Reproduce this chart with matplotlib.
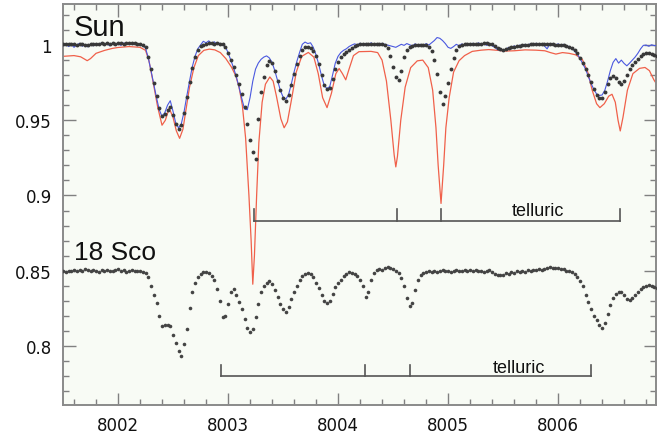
import numpy as np
import matplotlib
matplotlib.use("Agg")
import matplotlib.pyplot as plt
from matplotlib.ticker import MultipleLocator, FuncFormatter

# ---------------- data ----------------
# regular wavelength grid of the dotted spectra (Angstrom), 0.025 A sampling
wl_dots = np.round(np.linspace(8001.50, 8006.90, 217), 3)

# Sun, dotted spectrum (rows of 10 samples = 0.25 A)
sun_dots = [
    1.0005, 1.0008, 1.0006, 1.0009, 1.0004, 1.0002, 1.0006, 1.0004, 1.0000, 1.0003,  # 8001.50
    1.0008, 1.0010, 1.0006, 1.0009, 1.0012, 1.0010, 1.0011, 1.0008, 1.0012, 1.0010,  # 8001.75
    1.0011, 1.0013, 1.0010, 1.0012, 1.0014, 1.0011, 1.0012, 1.0009, 1.0008, 1.0002,  # 8002.00
    0.9985, 0.9920, 0.9840, 0.9745, 0.9660, 0.9580, 0.9530, 0.9540, 0.9570, 0.9590,  # 8002.25
    0.9535, 0.9478, 0.9442, 0.9470, 0.9550, 0.9655, 0.9755, 0.9850, 0.9920, 0.9965,  # 8002.50
    0.9993, 1.0003, 1.0008, 1.0011, 1.0012, 1.0010, 1.0012, 1.0009, 1.0005, 0.9985,  # 8002.75
    0.9945, 0.9898, 0.9852, 0.9800, 0.9740, 0.9672, 0.9590, 0.9472, 0.9370, 0.9290,  # 8003.00
    0.9240, 0.9510, 0.9685, 0.9790, 0.9865, 0.9895, 0.9880, 0.9825, 0.9760, 0.9700,  # 8003.25
    0.9650, 0.9630, 0.9665, 0.9735, 0.9810, 0.9875, 0.9928, 0.9965, 0.9985, 0.9990,  # 8003.50
    0.9982, 0.9962, 0.9928, 0.9872, 0.9800, 0.9735, 0.9708, 0.9712, 0.9772, 0.9840,  # 8003.75
    0.9890, 0.9920, 0.9938, 0.9952, 0.9968, 0.9980, 0.9992, 1.0000, 1.0004, 1.0006,  # 8004.00
    1.0008, 1.0007, 1.0009, 1.0006, 1.0008, 1.0007, 1.0004, 0.9998, 0.9982, 0.9930,  # 8004.25
    0.9855, 0.9785, 0.9765, 0.9830, 0.9920, 0.9970, 0.9990, 0.9997, 1.0000, 1.0002,  # 8004.50
    1.0001, 1.0003, 1.0000, 0.9990, 0.9960, 0.9900, 0.9810, 0.9690, 0.9610, 0.9660,  # 8004.75
    0.9750, 0.9840, 0.9915, 0.9968, 0.9995, 1.0003, 1.0006, 1.0008, 1.0007, 1.0009,  # 8005.00
    1.0008, 1.0010, 1.0009, 1.0011, 1.0012, 1.0010, 1.0005, 0.9995, 0.9982, 0.9972,  # 8005.25
    0.9970, 0.9975, 0.9982, 0.9986, 0.9990, 0.9992, 0.9995, 0.9998, 1.0000, 1.0003,  # 8005.50
    1.0005, 1.0007, 1.0008, 1.0009, 1.0008, 1.0006, 1.0007, 1.0005, 1.0004, 1.0003,  # 8005.75
    1.0002, 1.0001, 0.9999, 0.9995, 0.9990, 0.9980, 0.9965, 0.9945, 0.9915, 0.9880,  # 8006.00
    0.9840, 0.9800, 0.9755, 0.9710, 0.9670, 0.9648, 0.9650, 0.9690, 0.9740, 0.9780,  # 8006.25
    0.9795, 0.9780, 0.9755, 0.9740, 0.9760, 0.9800, 0.9840, 0.9868, 0.9885, 0.9905,  # 8006.50
    0.9925, 0.9938, 0.9946, 0.9945, 0.9940, 0.9932, 0.9928,                          # 8006.75
]

# Sun, blue (noisy) spectrum on the same grid
sun_blue = [
    0.9995, 1.0010, 0.9990, 1.0005, 0.9985, 1.0000, 1.0012, 0.9992, 1.0003, 0.9988,
    1.0006, 0.9995, 1.0010, 1.0002, 1.0015, 1.0000, 1.0008, 0.9995, 1.0012, 1.0004,
    1.0010, 0.9998, 1.0014, 1.0005, 1.0012, 1.0008, 1.0003, 1.0010, 1.0000, 0.9998,
    0.9980, 0.9915, 0.9830, 0.9740, 0.9650, 0.9570, 0.9525, 0.9550, 0.9600, 0.9630,
    0.9560, 0.9480, 0.9450, 0.9475, 0.9555, 0.9660, 0.9760, 0.9855, 0.9925, 0.9975,
    1.0000, 1.0025, 1.0015, 1.0028, 1.0010, 1.0022, 1.0005, 1.0012, 1.0000, 0.9990,
    0.9950, 0.9900, 0.9850, 0.9790, 0.9720, 0.9645, 0.9575, 0.9570, 0.9650, 0.9760,
    0.9840, 0.9880, 0.9905, 0.9920, 0.9928, 0.9915, 0.9885, 0.9830, 0.9765, 0.9700,
    0.9655, 0.9640, 0.9670, 0.9740, 0.9820, 0.9890, 0.9950, 1.0005, 1.0020, 1.0010,
    1.0015, 0.9985, 0.9935, 0.9870, 0.9795, 0.9730, 0.9710, 0.9725, 0.9800, 0.9880,
    0.9925, 0.9950, 0.9965, 0.9975, 0.9990, 1.0000, 1.0008, 1.0002, 1.0012, 1.0005,
    1.0010, 1.0000, 1.0015, 1.0003, 1.0008, 0.9998, 1.0012, 1.0005, 1.0000, 0.9995,
    0.9990, 0.9985, 0.9995, 1.0005, 0.9998, 1.0010, 1.0002, 0.9995, 1.0008, 1.0000,
    1.0005, 0.9995, 1.0010, 1.0000, 1.0015, 1.0030, 1.0050, 1.0045, 1.0030, 1.0010,
    0.9985, 0.9978, 0.9990, 1.0005, 0.9995, 1.0008, 0.9998, 1.0010, 1.0002, 1.0012,
    1.0000, 1.0015, 1.0005, 1.0010, 0.9998, 1.0008, 0.9995, 0.9985, 0.9970, 0.9965,
    0.9962, 0.9970, 0.9985, 0.9975, 0.9995, 0.9985, 1.0000, 0.9992, 1.0005, 0.9998,
    1.0010, 1.0000, 1.0012, 1.0003, 1.0008, 0.9995, 0.9975, 1.0005, 1.0010, 1.0000,
    1.0008, 0.9998, 1.0005, 0.9995, 0.9990, 0.9980, 0.9960, 0.9940, 0.9910, 0.9875,
    0.9840, 0.9790, 0.9745, 0.9705, 0.9675, 0.9665, 0.9668, 0.9700, 0.9760, 0.9830,
    0.9885, 0.9910, 0.9880, 0.9900, 0.9878, 0.9862, 0.9880, 0.9900, 0.9920, 0.9945,
    0.9975, 0.9998, 1.0000, 0.9992, 1.0002, 0.9996, 0.9998,
]

# 18 Sco, dotted spectrum (plotted with its own offset continuum ~0.85)
sco_dots = [
    0.8498, 0.8492, 0.8500, 0.8495, 0.8502, 0.8496, 0.8505, 0.8498, 0.8510, 0.8503,  # 8001.50
    0.8496, 0.8505, 0.8499, 0.8494, 0.8502, 0.8497, 0.8506, 0.8500, 0.8495, 0.8504,  # 8001.75
    0.8508, 0.8497, 0.8502, 0.8493, 0.8500, 0.8505, 0.8497, 0.8501, 0.8496, 0.8490,  # 8002.00
    0.8485, 0.8460, 0.8396, 0.8340, 0.8284, 0.8200, 0.8135, 0.8140, 0.8142, 0.8130,  # 8002.25
    0.8075, 0.8020, 0.7965, 0.7930, 0.8010, 0.8110, 0.8250, 0.8360, 0.8420, 0.8455,  # 8002.50
    0.8475, 0.8488, 0.8490, 0.8485, 0.8465, 0.8440, 0.8380, 0.8300, 0.8195, 0.8200,  # 8002.75
    0.8280, 0.8360, 0.8375, 0.8340, 0.8290, 0.8245, 0.8180, 0.8120, 0.8090, 0.8110,  # 8003.00
    0.8190, 0.8280, 0.8355, 0.8400, 0.8420, 0.8430, 0.8410, 0.8370, 0.8325, 0.8280,  # 8003.25
    0.8245, 0.8228, 0.8260, 0.8310, 0.8355, 0.8400, 0.8440, 0.8465, 0.8475, 0.8482,  # 8003.50
    0.8478, 0.8455, 0.8420, 0.8385, 0.8340, 0.8300, 0.8285, 0.8300, 0.8345, 0.8390,  # 8003.75
    0.8420, 0.8440, 0.8465, 0.8480, 0.8490, 0.8485, 0.8478, 0.8465, 0.8440, 0.8395,  # 8004.00
    0.8325, 0.8360, 0.8440, 0.8485, 0.8505, 0.8512, 0.8505, 0.8515, 0.8524, 0.8518,  # 8004.25
    0.8510, 0.8498, 0.8485, 0.8450, 0.8396, 0.8320, 0.8265, 0.8285, 0.8373, 0.8440,  # 8004.50
    0.8470, 0.8485, 0.8490, 0.8496, 0.8492, 0.8500, 0.8494, 0.8498, 0.8503, 0.8495,  # 8004.75
    0.8500, 0.8493, 0.8498, 0.8504, 0.8496, 0.8501, 0.8506, 0.8497, 0.8502, 0.8498,  # 8005.00
    0.8503, 0.8495, 0.8500, 0.8492, 0.8497, 0.8502, 0.8488, 0.8480, 0.8472, 0.8468,  # 8005.25
    0.8470, 0.8482, 0.8476, 0.8490, 0.8484, 0.8495, 0.8489, 0.8498, 0.8494, 0.8502,  # 8005.50
    0.8498, 0.8506, 0.8502, 0.8510, 0.8505, 0.8514, 0.8518, 0.8522, 0.8516, 0.8520,  # 8005.75
    0.8518, 0.8512, 0.8508, 0.8500, 0.8496, 0.8490, 0.8478, 0.8460, 0.8430, 0.8400,  # 8006.00
    0.8340, 0.8290, 0.8245, 0.8200, 0.8170, 0.8140, 0.8120, 0.8155, 0.8215, 0.8270,  # 8006.25
    0.8318, 0.8345, 0.8360, 0.8355, 0.8335, 0.8315, 0.8308, 0.8320, 0.8340, 0.8360,  # 8006.50
    0.8375, 0.8390, 0.8400, 0.8407, 0.8400, 0.8392, 0.8384,                          # 8006.75
]

# Sun, red (smooth) spectrum
red_wl = [8001.50, 8001.60, 8001.66, 8001.70, 8001.72, 8001.75, 8001.80, 8001.88, 8001.95, 8002.00,
          8002.10, 8002.20, 8002.25, 8002.28, 8002.32, 8002.36, 8002.40, 8002.43, 8002.465, 8002.50,
          8002.53, 8002.56, 8002.59, 8002.62, 8002.65, 8002.69, 8002.73, 8002.78, 8002.83, 8002.88,
          8002.93, 8002.98, 8003.03, 8003.07, 8003.10, 8003.13, 8003.16, 8003.19, 8003.21, 8003.225,
          8003.24, 8003.26, 8003.28, 8003.31, 8003.34, 8003.38, 8003.41, 8003.44, 8003.48, 8003.51,
          8003.54, 8003.58, 8003.62, 8003.67, 8003.73, 8003.78, 8003.82, 8003.86, 8003.90, 8003.94,
          8003.98, 8004.01, 8004.04, 8004.07, 8004.10, 8004.14, 8004.19, 8004.30, 8004.36, 8004.40,
          8004.44, 8004.48, 8004.51, 8004.525, 8004.54, 8004.57, 8004.61, 8004.66, 8004.72, 8004.77,
          8004.82, 8004.86, 8004.89, 8004.91, 8004.936, 8004.96, 8004.98, 8005.01, 8005.05, 8005.10,
          8005.15, 8005.22, 8005.30, 8005.37, 8005.45, 8005.52, 8005.60, 8005.70, 8005.80, 8005.88,
          8005.93, 8005.98, 8006.04, 8006.10, 8006.16, 8006.22, 8006.27, 8006.31, 8006.35, 8006.38,
          8006.42, 8006.46, 8006.49, 8006.52, 8006.545, 8006.565, 8006.59, 8006.63, 8006.68, 8006.74,
          8006.79, 8006.83, 8006.87, 8006.90]
red_flux = [0.9925, 0.9930, 0.9922, 0.9905, 0.9896, 0.9910, 0.9945, 0.9965, 0.9978, 0.9984,
            0.9990, 0.9985, 0.9965, 0.9900, 0.9750, 0.9590, 0.9467, 0.9500, 0.9580, 0.9520,
            0.9430, 0.9380, 0.9440, 0.9580, 0.9720, 0.9850, 0.9930, 0.9965, 0.9973, 0.9968,
            0.9950, 0.9910, 0.9855, 0.9796, 0.9720, 0.9600, 0.9380, 0.9000, 0.8700, 0.8410,
            0.8600, 0.9000, 0.9350, 0.9620, 0.9740, 0.9788, 0.9760, 0.9660, 0.9510, 0.9450,
            0.9490, 0.9650, 0.9820, 0.9925, 0.9951, 0.9920, 0.9810, 0.9650, 0.9584, 0.9680,
            0.9810, 0.9844, 0.9810, 0.9769, 0.9840, 0.9930, 0.9956, 0.9958, 0.9950, 0.9900,
            0.9760, 0.9500, 0.9270, 0.9190, 0.9260, 0.9500, 0.9720, 0.9850, 0.9895, 0.9900,
            0.9850, 0.9700, 0.9450, 0.9200, 0.8947, 0.9200, 0.9450, 0.9650, 0.9820, 0.9896,
            0.9930, 0.9958, 0.9966, 0.9970, 0.9965, 0.9960, 0.9962, 0.9968, 0.9966, 0.9962,
            0.9950, 0.9940, 0.9950, 0.9945, 0.9935, 0.9905, 0.9820, 0.9700, 0.9610, 0.9584,
            0.9610, 0.9660, 0.9673, 0.9620, 0.9500, 0.9429, 0.9520, 0.9700, 0.9810, 0.9845,
            0.9851, 0.9830, 0.9770, 0.9735]

# telluric line markers
sun_telluric = [8003.235, 8004.537, 8004.933, 8006.56]
sco_telluric = [8002.94, 8004.247, 8004.65, 8006.296]
sun_bracket_y = 0.8829
sco_bracket_y = 0.7800

labels = ["Sun", "18 Sco"]

# ---------------- figure ----------------
fig = plt.figure(figsize=(6.69, 4.39), dpi=100)
ax = fig.add_axes([63 / 669, 33 / 439, (656 - 63) / 669, (406 - 5) / 439])
ax.set_facecolor("#f8fbf5")

ax.plot(red_wl, red_flux, color="#f0604a", lw=0.9, zorder=2)
ax.plot(wl_dots, sun_blue, color="#4a58e0", lw=0.8, zorder=3)
ax.plot(wl_dots, sun_dots, "o", color="#383838", ms=2.8, mew=0, zorder=4)
ax.plot(wl_dots, sco_dots, "o", color="#444444", ms=2.6, mew=0, zorder=4)

def bracket(xs, y, h):
    ax.plot([xs[0], xs[-1]], [y, y], color="#555555", lw=1.2, zorder=5)
    for x in xs:
        ax.plot([x, x], [y, y + h], color="#555555", lw=1.2, zorder=5)

bracket(sun_telluric, sun_bracket_y, 0.0078)
bracket(sco_telluric, sco_bracket_y, 0.0073)

ax.text(8005.82, 0.8873, "telluric", fontsize=13, family="Liberation Sans",
        ha="center", va="baseline", color="#111111")
ax.text(8005.64, 0.7827, "telluric", fontsize=13, family="Liberation Sans",
        ha="center", va="baseline", color="#111111")
ax.text(8001.60, 1.0067, labels[0], fontsize=21, family="Liberation Sans",
        ha="left", va="baseline", color="#111111")
ax.text(8001.60, 0.8578, labels[1], fontsize=19, family="Liberation Sans",
        ha="left", va="baseline", color="#111111")

ax.set_xlim(8001.5, 8006.89)
ax.set_ylim(0.7607, 1.0273)

ax.xaxis.set_major_locator(MultipleLocator(1))
ax.xaxis.set_minor_locator(MultipleLocator(0.2))
ax.yaxis.set_major_locator(MultipleLocator(0.05))
ax.yaxis.set_minor_locator(MultipleLocator(0.01))
ax.xaxis.set_major_formatter(FuncFormatter(lambda v, p: "%d" % round(v)))
ax.yaxis.set_major_formatter(FuncFormatter(lambda v, p: ("%.2f" % v).rstrip("0").rstrip(".")))

ax.tick_params(which="both", direction="in", top=True, right=True, color="#808080",
               labelsize=12, labelcolor="#111111")
ax.tick_params(which="major", length=9, width=1.0, pad=8)
ax.tick_params(which="minor", length=4, width=1.0)
for s in ax.spines.values():
    s.set_color("#8a8a8a")
    s.set_linewidth(1.4)

fig.savefig("out.png", dpi=100)
